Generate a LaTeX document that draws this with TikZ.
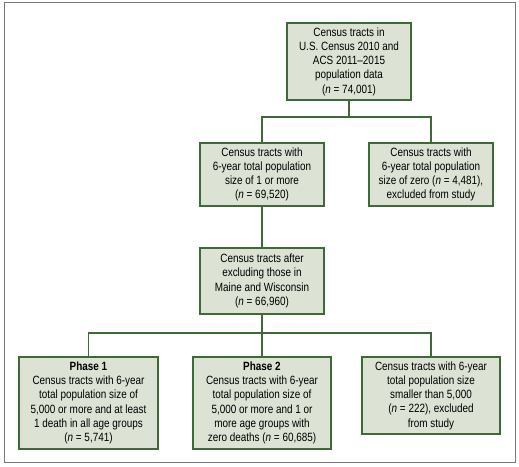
\documentclass[tikz,border=0pt]{standalone}
\usepackage{fontspec}
\setmainfont{Liberation Sans}[FakeStretch=0.83]
\definecolor{boxfill}{RGB}{220,227,213}
\definecolor{boxline}{RGB}{62,106,56}
\definecolor{framegray}{RGB}{120,120,120}
\tikzset{
  tractbox/.style={draw=boxline, fill=boxfill, line width=1.4bp, align=center,
    inner sep=0pt, font=\fontsize{12}{14.3}\selectfont},
  link/.style={draw=boxline, line width=1.4bp}
}

\begin{document}
\begin{tikzpicture}[x=1bp, y=-1bp]
			\useasboundingbox (0,0) rectangle (519,467);
			\draw[framegray, line width=1bp] (4,3) rectangle (515,462); % frame

			\node[tractbox, minimum width=124bp, minimum height=77bp] (all) at (349,61.5)
				{Census tracts in\\U.S. Census 2010 and\\ACS 2011--2015\\population data\\(\textit{n} = 74,001)};
			\node[tractbox, minimum width=124bp, minimum height=63bp] (one) at (262,174.5)
				{Census tracts with\\6-year total population\\size of 1 or more\\(\textit{n} = 69,520)};
			\node[tractbox, minimum width=124bp, minimum height=63bp] (zero) at (431,174.5)
				{Census tracts with\\6-year total population\\size of zero (\textit{n} = 4,481),\\excluded from study};
			\node[tractbox, minimum width=124bp, minimum height=66bp] (states) at (262,281)
				{Census tracts after\\excluding those in\\Maine and Wisconsin\\(\textit{n} = 66,960)};

			\node[tractbox, minimum width=139bp, minimum height=92bp] (phase1) at (88.5,403)
				{\textbf{Phase 1}\\Census tracts with 6-year\\total population size of\\5,000 or more and at least\\1 death in all age groups\\(\textit{n} = 5,741)};
			\node[tractbox, minimum width=138bp, minimum height=92bp] (phase2) at (262,403)
				{\textbf{Phase 2}\\Census tracts with 6-year\\total population size of\\5,000 or more and 1 or\\more age groups with\\zero deaths (\textit{n} = 60,685)};
			\node[tractbox, minimum width=138bp, minimum height=77bp] (small) at (431,395.5)
				{Census tracts with 6-year\\total population size\\smaller than 5,000\\(\textit{n} = 222), excluded\\from study};

			\coordinate (split1) at (349,117);
			\coordinate (split2) at (262,333);
			\draw[link] (all) -- (split1);
			\draw[link] (one.north) |- (split1) -| (zero.north);
			\draw[link] (one) -- (states);
			\draw[link] (states) -- (phase2);
			\draw[link] (phase1.north) |- (split2) -| (small.north);
\end{tikzpicture}
\end{document}
